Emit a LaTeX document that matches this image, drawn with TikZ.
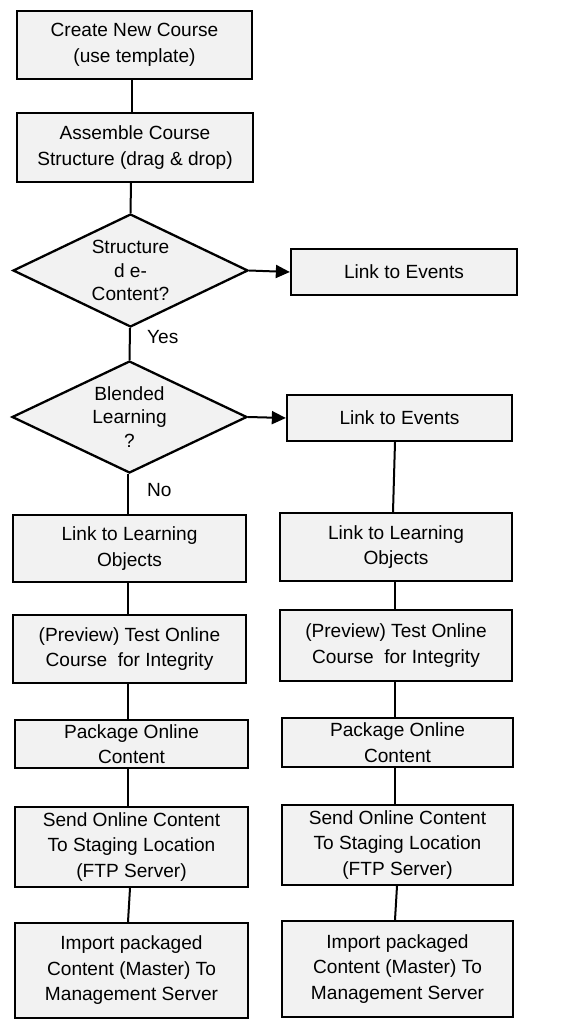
\documentclass[tikz,border=0pt]{standalone}
\usepackage{fontspec}
\setmainfont{Liberation Sans}
\usetikzlibrary{shapes.geometric,arrows.meta}
\definecolor{boxfill}{RGB}{242,242,242}
\tikzset{
  txt/.style={font=\fontsize{19.1}{25.5}\selectfont, align=center},
  stepbox/.style={draw=black, line width=2.3pt, fill=boxfill, rectangle, inner sep=0pt, txt},
  decision/.style={draw=black, line width=2.3pt, fill=boxfill, shape=diamond, inner sep=0pt},
  conn/.style={draw=black, line width=2pt},
  arr/.style={conn, -{Triangle[length=14pt,width=13pt]}},
  lbl/.style={font=\fontsize{19.1}{25.5}\selectfont, inner sep=0pt, anchor=west}
}
\begin{document}
\begin{tikzpicture}[x=1pt,y=-1pt]
\useasboundingbox (0,0) rectangle (576,1023);
% left column
\node[stepbox, minimum width=235pt, minimum height=68pt] (b1) at (134.5,45) {Create New Course\\(use template)};
\node[stepbox, minimum width=236pt, minimum height=69pt] (b2) at (135,147.5) {Assemble Course\\Structure (drag \& drop)};
\node[decision, minimum width=235pt, minimum height=113pt,
      label={[font=\fontsize{19.1}{23.5}\selectfont, align=center]center:Structure\\d e-\\Content?}] (d1) at (130.5,270.5) {};
\node[stepbox, minimum width=226pt, minimum height=46pt] (e1) at (404,272) {Link to Events};
\node[decision, minimum width=235pt, minimum height=112pt,
      label={[font=\fontsize{19.1}{23.5}\selectfont, align=center]center:Blended\\Learning\\?}] (d2) at (129.5,417) {};
\node[stepbox, minimum width=225pt, minimum height=46pt] (e2) at (399.5,418) {Link to Events};
\node[stepbox, minimum width=233pt, minimum height=67pt] (l1) at (129.5,548.5) {Link to Learning\\Objects};
\node[stepbox, minimum width=233pt, minimum height=68pt] (l2) at (129.5,649) {(Preview) Test Online\\Course\ \ for Integrity};
\node[stepbox, minimum width=233pt, minimum height=48pt] (l3) at (131.5,744) {Package Online\\Content};
\node[stepbox, minimum width=233pt, minimum height=80pt] (l4) at (131.5,847) {Send Online Content\\To Staging Location\\(FTP Server)};
\node[stepbox, minimum width=233pt, minimum height=95pt] (l5) at (131.5,970.5) {Import packaged\\Content (Master) To\\Management Server};
% right column
\node[stepbox, minimum width=232pt, minimum height=68pt] (r1) at (396,547) {Link to Learning\\Objects};
\node[stepbox, minimum width=232pt, minimum height=71pt] (r2) at (396,645.5) {(Preview) Test Online\\Course\ \ for Integrity};
\node[stepbox, minimum width=231pt, minimum height=49pt] (r3) at (397.5,742.5) {Package Online\\Content};
\node[stepbox, minimum width=231pt, minimum height=80pt] (r4) at (397.5,845) {Send Online Content\\To Staging Location\\(FTP Server)};
\node[stepbox, minimum width=231pt, minimum height=96pt] (r5) at (397.5,969) {Import packaged\\Content (Master) To\\Management Server};
% labels
\node[lbl] (yes) at (147,337) {Yes};
\node[lbl] (no) at (147,490) {No};
% connectors
\draw[conn] ([xshift=-2.5pt]b1.south) -- ([xshift=-3pt]b2.north);
\draw[conn] ([xshift=-4pt]b2.south) -- (d1.north);
\draw[conn] ([xshift=-0.5pt]d1.south) -- (d2.north);
\draw[arr] (d1.east) -- (e1.west);
\draw[arr] (d2.east) -- (e2.west);
\draw[conn] ([xshift=-1.5pt]d2.south) -- ([xshift=-1.5pt]l1.north);
\draw[conn] ([xshift=-4.5pt]e2.south) -- ([xshift=-3pt]r1.north);
\draw[conn] ([xshift=-1.5pt]l1.south) -- ([xshift=-1.5pt]l2.north);
\draw[conn] ([xshift=-1pt]r1.south) -- ([xshift=-1pt]r2.north);
\draw[conn] ([xshift=-1.5pt]l2.south) -- ([xshift=-3.5pt]l3.north);
\draw[conn] ([xshift=-1pt]r2.south) -- ([xshift=-2.5pt]r3.north);
\draw[conn] ([xshift=-3.5pt]l3.south) -- ([xshift=-3.5pt]l4.north);
\draw[conn] ([xshift=-2.5pt]r3.south) -- ([xshift=-2.5pt]r4.north);
\draw[conn] ([xshift=-1.5pt]l4.south) -- ([xshift=-3.5pt]l5.north);
\draw[conn] ([xshift=-0.5pt]r4.south) -- ([xshift=-2.5pt]r5.north);
\end{tikzpicture}
\end{document}
